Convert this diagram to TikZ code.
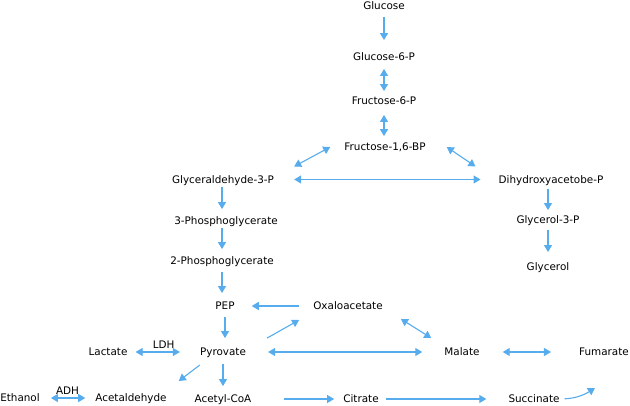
\documentclass[tikz,border=0pt]{standalone}
\usepackage{fontspec}
\setmainfont{DejaVu Sans}
\usetikzlibrary{arrows.meta}
\definecolor{arrowblue}{RGB}{86,172,236}
\begin{document}
\begin{tikzpicture}
      [x=1pt,y=1pt
      ,txt/.style={font=\fontsize{10.4}{12}\selectfont,text=black,inner sep=0pt,text height=7.5pt,text depth=0pt}
      ,lin/.style={color=arrowblue,line width=1.1pt,-{Triangle[length=7pt,width=8pt]}}
      ,both/.style={lin,{Triangle[length=7pt,width=8pt]}-{Triangle[length=7pt,width=8pt]}}
      ]
        \useasboundingbox (0,0) rectangle (630,-406);
        % glycolysis
        \node[txt] (glc) at (384,-6) {Glucose};
        \node[txt] (g6p) at (384,-57) {Glucose-6-P};
        \node[txt] (f6p) at (384,-101) {Fructose-6-P};
        \node[txt] (fbp) at (385,-147) {Fructose-1,6-BP};
        \node[txt] (gap) at (223,-179.5) {Glyceraldehyde-3-P};
        \node[txt] (dhap) at (551,-179.5) {Dihydroxyacetobe-P};
        \node[txt] (pga3) at (226,-221) {3-Phosphoglycerate};
        \node[txt] (pga2) at (222,-261) {2-Phosphoglycerate};
        \node[txt] (pep) at (225,-306) {PEP};
        \node[txt] (glyp) at (548,-220) {Glycerol-3-P};
        \node[txt] (glyc) at (548,-267) {Glycerol};
        % pyruvate and beyond
        \node[txt] (oaa) at (348,-306) {Oxaloacetate};
        \node[txt] (lac) at (108,-352) {Lactate};
        \node[txt] (pyr) at (223,-352) {Pyrovate};
        \node[txt] (mal) at (462,-352) {Malate};
        \node[txt] (fum) at (604,-352) {Fumarate};
        \node[txt] (eth) at (20,-398) {Ethanol};
        \node[txt] (acald) at (131,-398) {Acetaldehyde};
        \node[txt] (acoa) at (223,-399) {Acetyl-CoA};
        \node[txt] (cit) at (361,-399) {Citrate};
        \node[txt] (suc) at (534,-399) {Succinate};
        \coordinate (sucend) at (595,-388);

        \draw[lin,shorten <=7pt,shorten >=13pt] (glc.south) -- (g6p.north);
        \draw[both,shorten <=8pt,shorten >=6pt] (g6p.south) -- (f6p.north);
        \draw[both,shorten <=10pt,shorten >=7pt] (f6p.south) -- (fbp.north -| f6p.south);
        \draw[both] ([xshift=-14pt]fbp.west) -- ([shift={(20,13)}]gap.east);
        \draw[both] ([xshift=21pt]fbp.east) -- ([shift={(-23,13)}]dhap.west);
        \draw[both,shorten <=20pt,shorten >=18pt] (gap.east) -- (dhap.west);
        \draw[lin,shorten <=4pt,shorten >=8pt] (gap.south -| pga2) -- (pga3.north -| pga2);
        \draw[lin,shorten <=3pt,shorten >=8pt] (pga3.south -| pga2) -- (pga2.north);
        \draw[lin,shorten <=7pt,shorten >=9pt] (pga2.south) -- (pep.north -| pga2);
        \draw[lin,shorten <=6pt,shorten >=6pt] (dhap.south -| glyp) -- (glyp.north);
        \draw[lin,shorten <=6pt,shorten >=11pt] (glyp.south) -- (glyc.north);
        \draw[lin,shorten <=14pt,shorten >=17pt] (oaa.west) -- (pep.east);
        \draw[lin,shorten <=7pt,shorten >=10pt] (pep.south) -- (pyr.north -| pep);
        \draw[lin] ([shift={(21,10)}]pyr.north east) -- ([shift={(-14,-14)}]oaa.west);
        \draw[both,shorten <=8pt,shorten >=20pt] (lac.east) -- (pyr.west)
          node[txt,midway,above=3pt] (ldh) {LDH};
        \draw[both,shorten <=22pt,shorten >=22pt] (pyr.east) -- (mal.west);
        \draw[both] ([shift={(18,-9)}]oaa.south east) -- ([shift={(-13,10)}]mal.north west);
        \draw[both,shorten <=23pt,shorten >=28pt] (mal.east) -- (fum.west);
        \draw[lin] ([shift={(0,-9)}]pyr.south west) -- ([shift={(12,13)}]acald.north east);
        \draw[lin,shorten <=8pt,shorten >=9pt] (pyr.south) -- (acoa.north);
        \draw[both,shorten <=11pt,shorten >=10pt] (eth.east) -- (acald.west)
          node[txt,midway,above=3pt] (adh) {ADH};
        \draw[lin,shorten <=32pt,shorten >=9pt] (acoa.east) -- (cit.west);
        \draw[lin,shorten <=7pt,shorten >=22pt] (cit.east) -- (suc.west);
        \draw[lin,shorten <=5pt] (suc.east) to[bend right=15] (sucend);
      \end{tikzpicture}
\end{document}
